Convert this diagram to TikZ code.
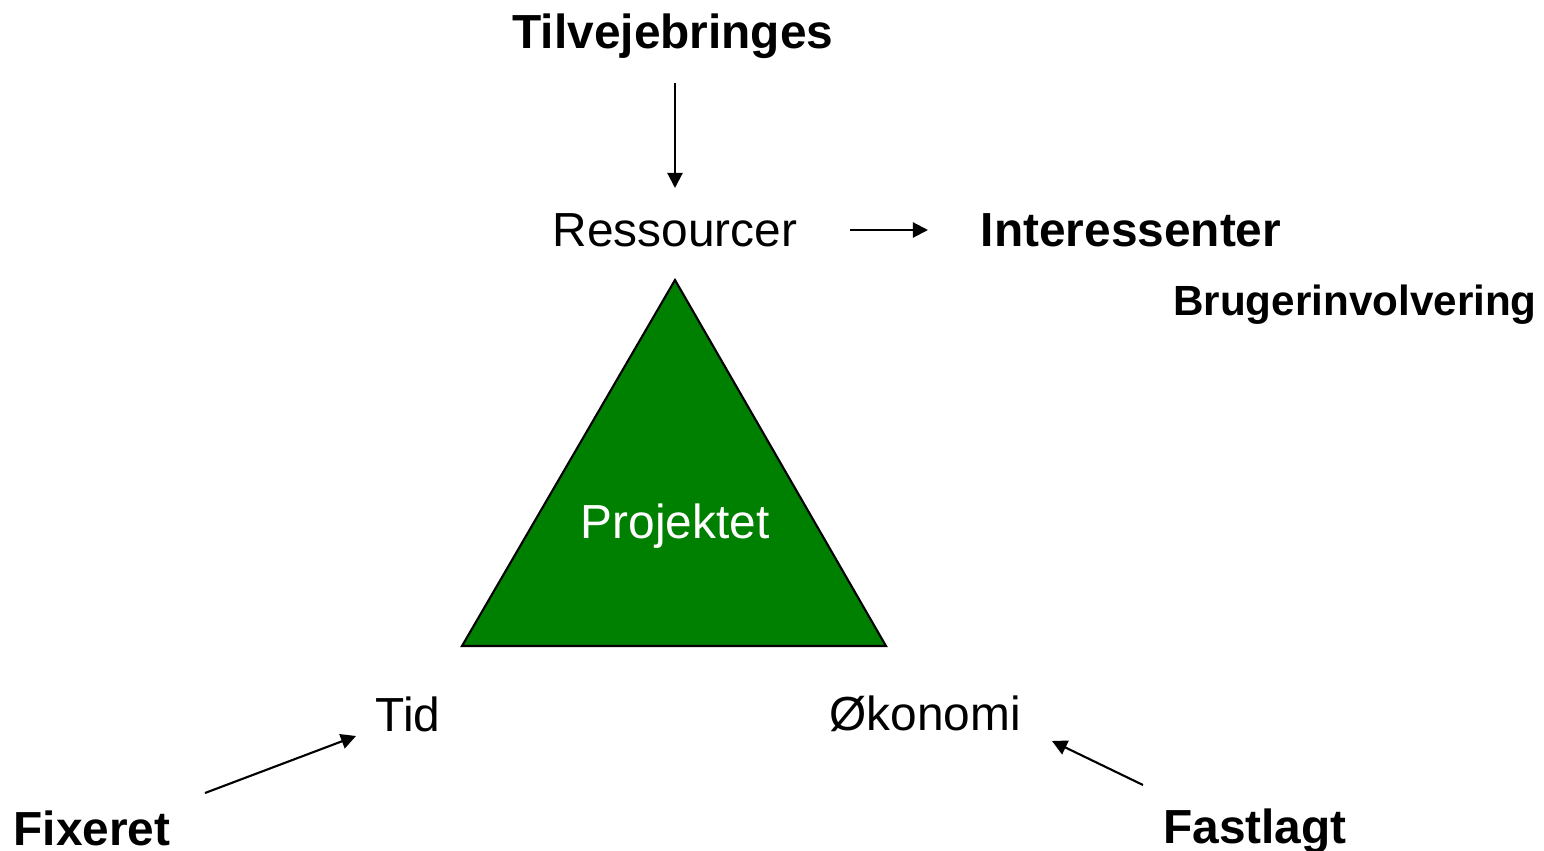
\documentclass[tikz,border=0pt]{standalone}
\usepackage{fontspec}
\setmainfont{Liberation Sans}
\usepackage{tikz}
\usetikzlibrary{arrows.meta}
\definecolor{projgreen}{RGB}{0,128,0}

\begin{document}
\begin{tikzpicture}[x=0.01cm,y=-0.01cm,
    lbl/.style={inner sep=0pt,font=\fontsize{13.6}{16}\selectfont},
    bold/.style={lbl,font=\fontsize{13.6}{16}\selectfont\bfseries},
    arr/.style={line width=0.6pt,-{Triangle[length=0.15cm,width=0.15cm]}}]
   \useasboundingbox (0,0) rectangle (1544,851);

   % the triangle
   \draw[fill=projgreen,line width=0.6pt] (675,280) -- (886,646) -- (462,646) -- cycle;
   \node[lbl,text=white] (proj) at (675,526) {Projektet};

   % corners
   \node[lbl] (ress) at (675,230) {Ressourcer};
   \node[lbl] (tid) at (408,714) {Tid};
   \node[lbl] (oko) at (925,714) {Økonomi};

   % outer labels
   \node[bold] (tilv) at (673,36) {Tilvejebringes};
   \node[bold] (inter) at (1131,230) {Interessenter};
   \node[bold,font=\fontsize{12}{14}\selectfont\bfseries] (bruger) at (1355,305) {Brugerinvolvering};
   \node[bold] (fix) at (92,828) {Fixeret};
   \node[bold] (fast) at (1255,831) {Fastlagt};

   % arrow ends
   \coordinate (tilvS) at (675,83);
   \coordinate (ressN) at (675,188);
   \coordinate (ressE) at (850,230);
   \coordinate (interW) at (928,230);
   \coordinate (fixNE) at (205,793);
   \coordinate (tidSW) at (356,736);
   \coordinate (fastNW) at (1143,785);
   \coordinate (okoSE) at (1052,741);

   \draw[arr] (tilvS) -- (ressN);
   \draw[arr] (ressE) -- (interW);
   \draw[arr] (fixNE) -- (tidSW);
   \draw[arr] (fastNW) -- (okoSE);
\end{tikzpicture}
\end{document}
